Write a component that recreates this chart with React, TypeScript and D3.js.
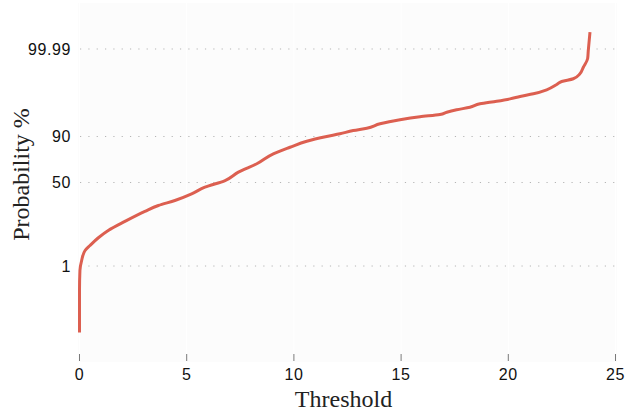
import React from "react";
import * as d3 from "d3";

// Empirical cumulative probability (%) against threshold
const thresholds = [
  0, 0, 0.02, 0.1, 0.26, 0.49, 0.88, 1.34, 2.12, 3.05, 3.68, 4.45, 5.23, 5.85,
  6.79, 7.41, 8.27, 9.04, 9.82, 10.6, 11.53, 12.15, 12.77, 13.4, 14.02, 14.95,
  15.88, 16.81, 17.13, 17.59, 18.21, 18.68, 19.46, 20.08, 20.55, 21.17, 21.79,
  22.26, 22.49, 23.03, 23.34, 23.5, 23.7, 23.73, 23.81,
];
const probabilities = [
  0.00147, 0.131, 0.71, 1.49, 2.91, 3.96, 6.18, 9.06, 13.9, 21.0, 26.1, 30.8,
  37.6, 44.8, 52.2, 61.3, 69.9, 78.8, 83.7, 87.5, 90.0, 91.26, 92.62, 93.48,
  94.9, 95.97, 96.64, 97.09, 97.49, 97.86, 98.2, 98.58, 98.82, 99.01, 99.171,
  99.326, 99.509, 99.683, 99.755, 99.807, 99.877, 99.934, 99.972, 99.988,
  99.9986,
];

const xTicks = [0, 5, 10, 15, 20, 25];
const yTicks = [1, 50, 90, 99.99];
const yTickLabels = ["1", "50", "90", "99.99"];

// Inverse standard normal CDF (Acklam's rational approximation)
function probit(p: number): number {
  const a = [-3.969683028665376e1, 2.209460984245205e2, -2.759285104469687e2, 1.38357751867269e2, -3.066479806614716e1, 2.506628277459239];
  const b = [-5.447609879822406e1, 1.615858368580409e2, -1.556989798598866e2, 6.680131188771972e1, -1.328068155288572e1];
  const c = [-7.784894002430293e-3, -3.223964580411365e-1, -2.400758277161838, -2.549732539343734, 4.374664141464968, 2.938163982698783];
  const d = [7.784695709041462e-3, 3.224671290700398e-1, 2.445134137142996, 3.754408661907416];
  const pl = 0.02425;
  if (p < pl) {
    const q = Math.sqrt(-2 * Math.log(p));
    return (((((c[0] * q + c[1]) * q + c[2]) * q + c[3]) * q + c[4]) * q + c[5]) /
      ((((d[0] * q + d[1]) * q + d[2]) * q + d[3]) * q + 1);
  }
  if (p > 1 - pl) {
    const q = Math.sqrt(-2 * Math.log(1 - p));
    return -(((((c[0] * q + c[1]) * q + c[2]) * q + c[3]) * q + c[4]) * q + c[5]) /
      ((((d[0] * q + d[1]) * q + d[2]) * q + d[3]) * q + 1);
  }
  const q = p - 0.5;
  const r = q * q;
  return (((((a[0] * r + a[1]) * r + a[2]) * r + a[3]) * r + a[4]) * r + a[5]) * q /
    (((((b[0] * r + b[1]) * r + b[2]) * r + b[3]) * r + b[4]) * r + 1);
}

const W = 626;
const H = 415;
const plot = { left: 78, right: 617, top: 3, bottom: 362 };

export default function App() {
  const x = d3.scaleLinear().domain([0, 25]).range([79.5, 615.5]);
  const y = d3.scaleLinear().domain([-5, 5]).range([plot.bottom, plot.top]);
  const yP = (pct: number) => y(probit(pct / 100));

  const pts = thresholds.map((t, i) => [t, probabilities[i]] as [number, number]);
  const line = d3
    .line<[number, number]>()
    .x((d) => x(d[0]))
    .y((d) => yP(d[1]))
    .curve(d3.curveMonotoneY);

  const tickFont = "'Liberation Sans', Arial, sans-serif";
  const titleFont = "'Liberation Serif', 'Times New Roman', serif";

  return (
    <svg
      width={W}
      height={H}
      style={{ position: "absolute", left: 0, top: 0, background: "#ffffff" }}
    >
      <rect
        x={plot.left}
        y={plot.top}
        width={plot.right - plot.left}
        height={plot.bottom - plot.top}
        fill="#fcfcfc"
      />
      {xTicks.map((t) => (
        <line
          key={`vg${t}`}
          x1={x(t)}
          x2={x(t)}
          y1={plot.top}
          y2={plot.bottom}
          stroke="#ffffff"
          strokeWidth={1}
        />
      ))}
      {yTicks.map((t) => (
        <line
          key={`hg${t}`}
          x1={80}
          x2={plot.right}
          y1={yP(t)}
          y2={yP(t)}
          stroke="#b5b5b5"
          strokeWidth={1}
          strokeDasharray="1.2,7.13"
        />
      ))}
      {xTicks.map((t) => (
        <g key={`xt${t}`}>
          <line
            x1={x(t)}
            x2={x(t)}
            y1={plot.bottom - 8}
            y2={plot.bottom - 1}
            stroke="#7a7a7a"
            strokeWidth={1}
          />
          <text
            x={x(t)}
            y={380}
            textAnchor="middle"
            fontFamily={tickFont}
            fontSize={16}
            letterSpacing={0.6}
            fill="#111"
          >
            {t}
          </text>
        </g>
      ))}
      {yTicks.map((t, i) => (
        <text
          key={`yt${t}`}
          x={71}
          y={yP(t)}
          dy="0.36em"
          textAnchor="end"
          fontFamily={tickFont}
          fontSize={16}
          letterSpacing={0.6}
          fill="#111"
        >
          {yTickLabels[i]}
        </text>
      ))}
      <path
        d={line(pts) ?? ""}
        fill="none"
        stroke="#dc5f50"
        strokeWidth={3}
        strokeLinejoin="round"
        strokeLinecap="butt"
      />
      <text
        x={(plot.left + plot.right) / 2 - 4}
        y={407}
        textAnchor="middle"
        fontFamily={titleFont}
        fontSize={24}
        fill="#222"
      >
        Threshold
      </text>
      <text
        transform={`translate(29,${(plot.top + plot.bottom) / 2 - 8}) rotate(-90)`}
        textAnchor="middle"
        fontFamily={titleFont}
        fontSize={24}
        fill="#222"
      >
        Probability %
      </text>
    </svg>
  );
}
